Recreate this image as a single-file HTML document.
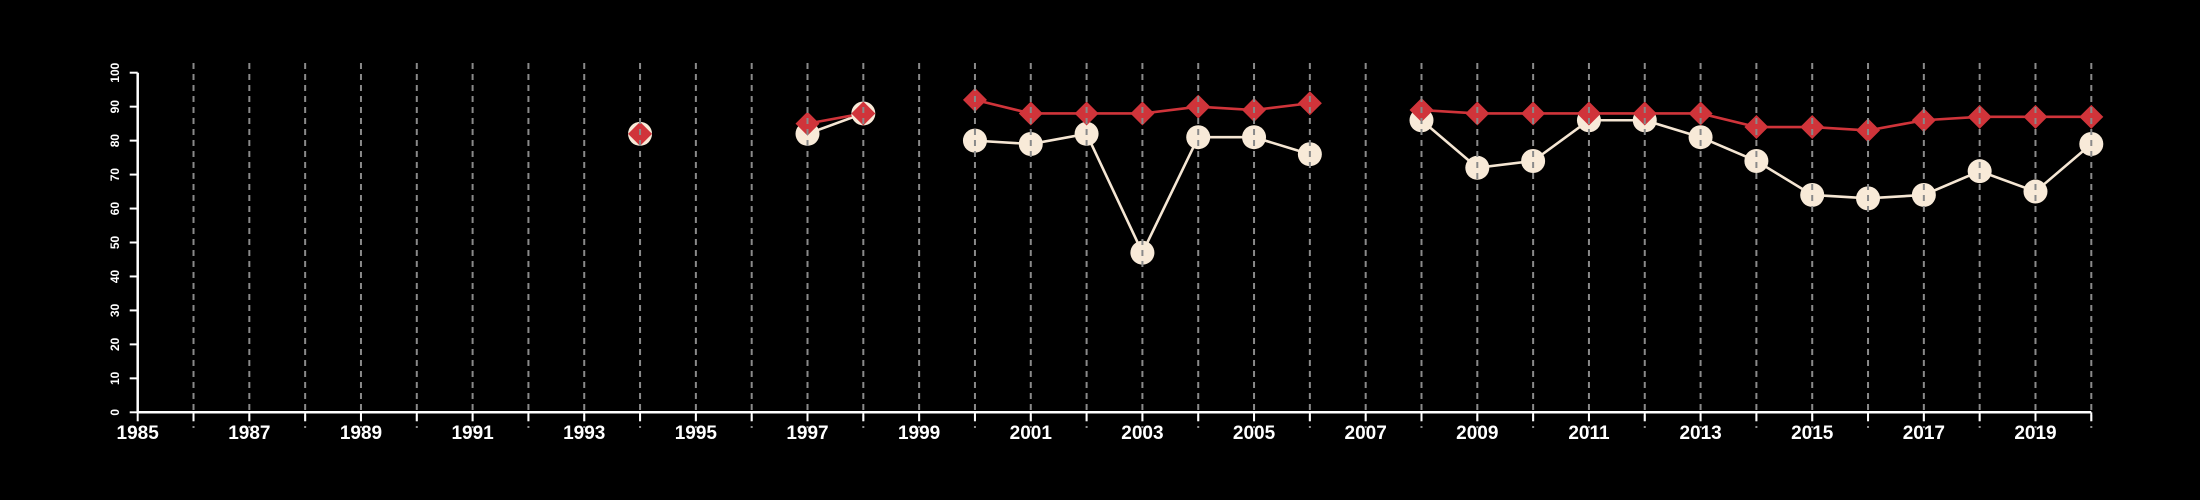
<!DOCTYPE html>
<html><head><meta charset="utf-8"><style>
html,body{margin:0;padding:0;background:#000;}
svg{display:block;font-family:"Liberation Sans",Arial,sans-serif;}
</style></head><body>
<svg id="chart" width="2200" height="500" viewBox="0 0 2200 500" xmlns="http://www.w3.org/2000/svg">
<rect width="2200" height="500" fill="#000"/>
<g id="lines"></g>
<g id="marks"></g>
<g id="grid"></g>
<g id="axes"></g>
</svg>
<script>
const years = [1994,1995,1996,1997,1998,1999,2000,2001,2002,2003,2004,2005,2006,2007,2008,2009,2010,2011,2012,2013,2014,2015,2016,2017,2018,2019,2020];
const seriesCream = [82,null,null,82,88,null,80,79,82,47,81,81,76,null,86,72,74,86,86,81,74,64,63,64,71,65,79];
const seriesRed = [82,null,null,85,88,null,92,88,88,88,90,89,91,null,89,88,88,88,88,88,84,84,83,86,87,87,87];
const yTicks = [0,10,20,30,40,50,60,70,80,90,100];
const xLabels = [1985,1987,1989,1991,1993,1995,1997,1999,2001,2003,2005,2007,2009,2011,2013,2015,2017,2019];
const NS = "http://www.w3.org/2000/svg";
const x0 = 137.7, x1 = 2091.3, xMin = 1985, xMax = 2020;
const y0 = 412.3, y1 = 72.7;
const X = v => x0 + (v - xMin) * (x1 - x0) / (xMax - xMin);
const Y = v => y0 + (v - 0) * (y1 - y0) / 100;
function mk(tag, attrs, parent){const e=document.createElementNS(NS,tag);for(const k in attrs)e.setAttribute(k,attrs[k]);parent.appendChild(e);return e;}
const gL=document.getElementById('lines'), gM=document.getElementById('marks'), gG=document.getElementById('grid'), gA=document.getElementById('axes');
function drawLine(vals,color,name){
  let seg=[];
  const flush=()=>{ if(seg.length>1){const p=mk('polyline',{points:seg.join(' '),fill:'none',stroke:color,'stroke-width':2.6},gL);
    
    } seg=[]; };
  vals.forEach((v,i)=>{ if(v==null){flush();} else seg.push(X(years[i])+','+Y(v)); });
  flush();
}
drawLine(seriesCream,'#f5e6d3','cream-series-line');
drawLine(seriesRed,'#d0343a','red-series-line');
seriesCream.forEach((v,i)=>{ if(v==null) return;
  const c=mk('circle',{cx:X(years[i]),cy:Y(v),r:12,fill:'#f8ead8'},gM);
  
  
});
seriesRed.forEach((v,i)=>{ if(v==null) return;
  const cx=X(years[i]), cy=Y(v), r=12;
  const d=mk('polygon',{points:`${cx},${cy-r} ${cx+r},${cy} ${cx},${cy+r} ${cx-r},${cy}`,fill:'#d0343a'},gM);
  
  
});
for(let yr=1986; yr<=2020; yr++){
  const l=mk('line',{x1:X(yr),x2:X(yr),y1:63,y2:428,stroke:'#8a8a8a','stroke-width':2,'stroke-dasharray':'6,5'},gG);
  
  
}
const ya=mk('line',{x1:x0,x2:x0,y1:Y(100),y2:Y(0),stroke:'#fff','stroke-width':2.5},gA);


yTicks.forEach(t=>{
  const tk=mk('line',{x1:x0-8,x2:x0,y1:Y(t),y2:Y(t),stroke:'#fff','stroke-width':2},gA);
  
  
  const tx=mk('text',{x:0,y:0,fill:'#fff','font-size':12,'font-weight':'bold','text-anchor':'middle',transform:`translate(119,${Y(t)}) rotate(-90)`},gA);
  tx.textContent=t;
  
  
});
const xa=mk('line',{x1:x0,x2:x1,y1:Y(0),y2:Y(0),stroke:'#fff','stroke-width':2.5},gA);


for(let yr=1985; yr<=2020; yr++){
  const tk=mk('line',{x1:X(yr),x2:X(yr),y1:Y(0),y2:Y(0)+9,stroke:'#fff','stroke-width':2},gA);
  
  
}
xLabels.forEach(yr=>{
  const tx=mk('text',{x:X(yr),y:439,fill:'#fff','font-size':19,'font-weight':'bold','text-anchor':'middle'},gA);
  tx.textContent=yr;
  
  
});
</script>
</body></html>
